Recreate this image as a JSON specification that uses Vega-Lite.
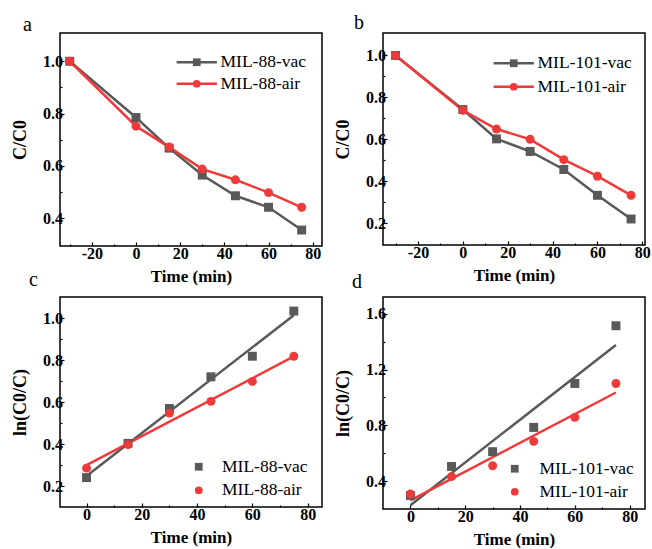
{
  "$schema": "https://vega.github.io/schema/vega-lite/v6.json",
  "background": "white",
  "padding": {"left": 10, "top": 12, "right": 0, "bottom": 0},
  "config": {
    "font": "Liberation Serif",
    "view": {"stroke": "black", "strokeWidth": 1.5},
    "axis": {
      "domain": false,
      "grid": false,
      "labelFont": "Liberation Serif",
      "labelFontWeight": "bold",
      "labelFontSize": 16,
      "labelColor": "black",
      "titleFont": "Liberation Serif",
      "titleFontWeight": "bold",
      "titleFontSize": 17,
      "titleColor": "black",
      "tickColor": "black",
      "tickWidth": 1.2
    },
    "axisX": {"labelPadding": 3, "titlePadding": 7},
    "axisY": {"labelPadding": 1.5, "titlePadding": 13, "titleFontSize": 18},
    "legend": {
      "labelFont": "Liberation Serif",
      "labelFontSize": 17.5,
      "labelColor": "black",
      "padding": 0,
      "rowPadding": 2.5
    },
    "title": {"font": "Liberation Serif", "fontSize": 20, "fontWeight": "normal", "color": "black", "anchor": "start", "frame": "group"}
  },
  "datasets": {
    "a": [
      {"t": -30, "v": 1.0, "s": "MIL-88-vac"},
      {"t": 0, "v": 0.785, "s": "MIL-88-vac"},
      {"t": 15, "v": 0.668, "s": "MIL-88-vac"},
      {"t": 30, "v": 0.565, "s": "MIL-88-vac"},
      {"t": 45, "v": 0.486, "s": "MIL-88-vac"},
      {"t": 60, "v": 0.442, "s": "MIL-88-vac"},
      {"t": 75, "v": 0.355, "s": "MIL-88-vac"},
      {"t": -30, "v": 1.0, "s": "MIL-88-air"},
      {"t": 0, "v": 0.752, "s": "MIL-88-air"},
      {"t": 15, "v": 0.672, "s": "MIL-88-air"},
      {"t": 30, "v": 0.588, "s": "MIL-88-air"},
      {"t": 45, "v": 0.547, "s": "MIL-88-air"},
      {"t": 60, "v": 0.498, "s": "MIL-88-air"},
      {"t": 75, "v": 0.442, "s": "MIL-88-air"}
    ],
    "b": [
      {"t": -30, "v": 1.0, "s": "MIL-101-vac"},
      {"t": 0, "v": 0.742, "s": "MIL-101-vac"},
      {"t": 15, "v": 0.602, "s": "MIL-101-vac"},
      {"t": 30, "v": 0.542, "s": "MIL-101-vac"},
      {"t": 45, "v": 0.456, "s": "MIL-101-vac"},
      {"t": 60, "v": 0.333, "s": "MIL-101-vac"},
      {"t": 75, "v": 0.22, "s": "MIL-101-vac"},
      {"t": -30, "v": 1.0, "s": "MIL-101-air"},
      {"t": 0, "v": 0.738, "s": "MIL-101-air"},
      {"t": 15, "v": 0.649, "s": "MIL-101-air"},
      {"t": 30, "v": 0.6, "s": "MIL-101-air"},
      {"t": 45, "v": 0.503, "s": "MIL-101-air"},
      {"t": 60, "v": 0.424, "s": "MIL-101-air"},
      {"t": 75, "v": 0.333, "s": "MIL-101-air"}
    ],
    "c": [
      {"t": 0, "v": 0.24, "s": "MIL-88-vac"},
      {"t": 15, "v": 0.403, "s": "MIL-88-vac"},
      {"t": 30, "v": 0.569, "s": "MIL-88-vac"},
      {"t": 45, "v": 0.72, "s": "MIL-88-vac"},
      {"t": 60, "v": 0.818, "s": "MIL-88-vac"},
      {"t": 75, "v": 1.033, "s": "MIL-88-vac"},
      {"t": 0, "v": 0.285, "s": "MIL-88-air"},
      {"t": 15, "v": 0.397, "s": "MIL-88-air"},
      {"t": 30, "v": 0.547, "s": "MIL-88-air"},
      {"t": 45, "v": 0.603, "s": "MIL-88-air"},
      {"t": 60, "v": 0.698, "s": "MIL-88-air"},
      {"t": 75, "v": 0.818, "s": "MIL-88-air"}
    ],
    "d": [
      {"t": 0, "v": 0.297, "s": "MIL-101-vac"},
      {"t": 15, "v": 0.505, "s": "MIL-101-vac"},
      {"t": 30, "v": 0.611, "s": "MIL-101-vac"},
      {"t": 45, "v": 0.785, "s": "MIL-101-vac"},
      {"t": 60, "v": 1.1, "s": "MIL-101-vac"},
      {"t": 75, "v": 1.514, "s": "MIL-101-vac"},
      {"t": 0, "v": 0.307, "s": "MIL-101-air"},
      {"t": 15, "v": 0.432, "s": "MIL-101-air"},
      {"t": 30, "v": 0.51, "s": "MIL-101-air"},
      {"t": 45, "v": 0.685, "s": "MIL-101-air"},
      {"t": 60, "v": 0.857, "s": "MIL-101-air"},
      {"t": 75, "v": 1.1, "s": "MIL-101-air"}
    ]
  },
  "columns": 2,
  "spacing": {"column": 61, "row": 51},
  "bounds": "flush",
  "resolve": {
    "scale": {"color": "independent", "shape": "independent", "x": "independent", "y": "independent"},
    "legend": {"color": "independent", "shape": "independent"}
  },
  "concat": [
    {
      "width": 262, "height": 213,
      "title": {"text": "a", "offset": -2, "dx": -37, "fontSize": 20, "frame": "group"},
      "data": {"name": "a"},
      "resolve": {"legend": {"color": "independent", "shape": "independent"}},
      "encoding": {
        "x": {"field": "t", "type": "quantitative", "title": "Time (min)",
              "scale": {"domain": [-34.4, 84.2], "nice": false, "zero": false},
              "axis": {"values": [-30, -20, -10, 0, 10, 20, 30, 40, 50, 60, 70, 80],
                       "labelExpr": "datum.value % 20 === 0 ? replace(datum.label, '−', '-') : ''",
                       "tickSize": {"condition": {"test": "datum.value % 20 === 0", "value": -4}, "value": -2}}},
        "y": {"field": "v", "type": "quantitative", "title": "C/C0",
              "scale": {"domain": [0.294, 1.108], "nice": false, "zero": false},
              "axis": {"values": [0.4, 0.5, 0.6, 0.7, 0.8, 0.9, 1.0], "format": ".1f",
                       "labelExpr": "round(datum.value * 10) % 2 === 0 ? datum.label : ''",
                       "tickSize": {"condition": {"test": "round(datum.value * 10) % 2 === 0", "value": -4}, "value": -2}}}
      },
      "layer": [
        {
          "mark": {"type": "line", "strokeWidth": 2.5},
          "encoding": {
            "color": {"field": "s", "type": "nominal",
                      "scale": {"domain": ["MIL-88-vac", "MIL-88-air"], "range": ["#595959", "#f03a3a"]},
                      "legend": {"title": null, "orient": "none", "legendX": 128, "legendY": 20.5,
                                 "symbolType": "M-5.2,0H5.2", "symbolSize": 60, "symbolStrokeWidth": 2.5,
                                 "labelOffset": 15, "labelOpacity": 0}}
          }
        },
        {
          "mark": {"type": "point", "filled": true, "opacity": 1, "size": 80},
          "encoding": {
            "color": {"field": "s", "type": "nominal",
                      "scale": {"domain": ["MIL-88-vac", "MIL-88-air"], "range": ["#595959", "#f03a3a"]},
                      "legend": {"title": null, "orient": "none", "legendX": 128, "legendY": 20.5,
                                 "symbolSize": 60, "labelOffset": 15}},
            "shape": {"field": "s", "type": "nominal",
                      "scale": {"domain": ["MIL-88-vac", "MIL-88-air"], "range": ["square", "circle"]},
                      "legend": {"title": null, "orient": "none", "legendX": 128, "legendY": 20.5,
                                 "symbolSize": 60, "labelOffset": 15}}
          }
        }
      ]
    },
    {
      "width": 262, "height": 212,
      "title": {"text": "b", "offset": 0, "dx": -29, "fontSize": 20, "frame": "group"},
      "data": {"name": "b"},
      "resolve": {"legend": {"color": "independent", "shape": "independent"}},
      "encoding": {
        "x": {"field": "t", "type": "quantitative", "title": "Time (min)",
              "scale": {"domain": [-35.6, 81.2], "nice": false, "zero": false},
              "axis": {"values": [-30, -20, -10, 0, 10, 20, 30, 40, 50, 60, 70, 80],
                       "labelExpr": "datum.value % 20 === 0 ? replace(datum.label, '−', '-') : ''",
                       "tickSize": {"condition": {"test": "datum.value % 20 === 0", "value": -4}, "value": -2}}},
        "y": {"field": "v", "type": "quantitative", "title": "C/C0",
              "scale": {"domain": [0.096, 1.107], "nice": false, "zero": false},
              "axis": {"values": [0.2, 0.3, 0.4, 0.5, 0.6, 0.7, 0.8, 0.9, 1.0], "format": ".1f",
                       "labelExpr": "round(datum.value * 10) % 2 === 0 ? datum.label : ''",
                       "tickSize": {"condition": {"test": "round(datum.value * 10) % 2 === 0", "value": -4}, "value": -2}}}
      },
      "layer": [
        {
          "mark": {"type": "line", "strokeWidth": 2.5},
          "encoding": {
            "color": {"field": "s", "type": "nominal",
                      "scale": {"domain": ["MIL-101-vac", "MIL-101-air"], "range": ["#595959", "#f03a3a"]},
                      "legend": {"title": null, "orient": "none", "legendX": 122, "legendY": 21.5, "rowPadding": 4.5,
                                 "symbolType": "M-5.2,0H5.2", "symbolSize": 60, "symbolStrokeWidth": 2.5,
                                 "labelOffset": 15, "labelOpacity": 0}}
          }
        },
        {
          "mark": {"type": "point", "filled": true, "opacity": 1, "size": 80},
          "encoding": {
            "color": {"field": "s", "type": "nominal",
                      "scale": {"domain": ["MIL-101-vac", "MIL-101-air"], "range": ["#595959", "#f03a3a"]},
                      "legend": {"title": null, "orient": "none", "legendX": 122, "legendY": 21.5, "rowPadding": 4.5,
                                 "symbolSize": 60, "labelOffset": 15}},
            "shape": {"field": "s", "type": "nominal",
                      "scale": {"domain": ["MIL-101-vac", "MIL-101-air"], "range": ["square", "circle"]},
                      "legend": {"title": null, "orient": "none", "legendX": 122, "legendY": 21.5, "rowPadding": 4.5,
                                 "symbolSize": 60, "labelOffset": 15}}
          }
        }
      ]
    },
    {
      "width": 262, "height": 210,
      "title": {"text": "c", "offset": 7, "dx": -31, "fontSize": 20, "frame": "group"},
      "data": {"name": "c"},
      "resolve": {"legend": {"color": "independent", "shape": "independent"}},
      "encoding": {
        "x": {"field": "t", "type": "quantitative", "title": "Time (min)",
              "scale": {"domain": [-9.6, 85.2], "nice": false, "zero": false},
              "axis": {"values": [0, 10, 20, 30, 40, 50, 60, 70, 80],
                       "labelExpr": "datum.value % 20 === 0 ? datum.label : ''",
                       "tickSize": {"condition": {"test": "datum.value % 20 === 0", "value": -4}, "value": -2}}},
        "y": {"field": "v", "type": "quantitative", "title": "ln(C0/C)",
              "scale": {"domain": [0.1, 1.1], "nice": false, "zero": false},
              "axis": {"values": [0.2, 0.3, 0.4, 0.5, 0.6, 0.7, 0.8, 0.9, 1.0], "format": ".1f",
                       "labelExpr": "round(datum.value * 10) % 2 === 0 ? datum.label : ''",
                       "tickSize": {"condition": {"test": "round(datum.value * 10) % 2 === 0", "value": -4}, "value": -2}}}
      },
      "layer": [
        {
          "transform": [{"regression": "v", "on": "t", "groupby": ["s"], "extent": [0, 75]}],
          "mark": {"type": "line", "strokeWidth": 2.5},
          "encoding": {
            "color": {"field": "s", "type": "nominal",
                      "scale": {"domain": ["MIL-88-vac", "MIL-88-air"], "range": ["#595959", "#f03a3a"]},
                      "legend": null}
          }
        },
        {
          "mark": {"type": "point", "filled": true, "opacity": 1, "size": 80},
          "encoding": {
            "color": {"field": "s", "type": "nominal",
                      "scale": {"domain": ["MIL-88-vac", "MIL-88-air"], "range": ["#595959", "#f03a3a"]},
                      "legend": {"title": null, "orient": "none", "legendX": 130, "legendY": 161, "rowPadding": 4.5,
                                 "symbolSize": 60, "labelOffset": 14.5}},
            "shape": {"field": "s", "type": "nominal",
                      "scale": {"domain": ["MIL-88-vac", "MIL-88-air"], "range": ["square", "circle"]},
                      "legend": {"title": null, "orient": "none", "legendX": 130, "legendY": 161, "rowPadding": 4.5,
                                 "symbolSize": 60, "labelOffset": 14.5}}
          }
        }
      ]
    },
    {
      "width": 262, "height": 212,
      "title": {"text": "d", "offset": 5, "dx": -31, "fontSize": 20, "frame": "group"},
      "data": {"name": "d"},
      "resolve": {"legend": {"color": "independent", "shape": "independent"}},
      "encoding": {
        "x": {"field": "t", "type": "quantitative", "title": "Time (min)",
              "scale": {"domain": [-10, 85.6], "nice": false, "zero": false},
              "axis": {"values": [0, 10, 20, 30, 40, 50, 60, 70, 80],
                       "labelExpr": "datum.value % 20 === 0 ? datum.label : ''",
                       "tickSize": {"condition": {"test": "datum.value % 20 === 0", "value": -4}, "value": -2}}},
        "y": {"field": "v", "type": "quantitative", "title": "ln(C0/C)",
              "scale": {"domain": [0.2, 1.72], "nice": false, "zero": false},
              "axis": {"values": [0.4, 0.6, 0.8, 1.0, 1.2, 1.4, 1.6], "format": ".1f",
                       "labelExpr": "round(datum.value * 10) % 4 === 0 ? datum.label : ''",
                       "tickSize": {"condition": {"test": "round(datum.value * 10) % 4 === 0", "value": -4}, "value": -2}}}
      },
      "layer": [
        {
          "transform": [{"regression": "v", "on": "t", "groupby": ["s"], "extent": [0, 75]}],
          "mark": {"type": "line", "strokeWidth": 2.5},
          "encoding": {
            "color": {"field": "s", "type": "nominal",
                      "scale": {"domain": ["MIL-101-vac", "MIL-101-air"], "range": ["#595959", "#f03a3a"]},
                      "legend": null}
          }
        },
        {
          "mark": {"type": "point", "filled": true, "opacity": 1, "size": 80},
          "encoding": {
            "color": {"field": "s", "type": "nominal",
                      "scale": {"domain": ["MIL-101-vac", "MIL-101-air"], "range": ["#595959", "#f03a3a"]},
                      "legend": {"title": null, "orient": "none", "legendX": 123, "legendY": 163, "rowPadding": 4,
                                 "symbolSize": 60, "labelOffset": 16}},
            "shape": {"field": "s", "type": "nominal",
                      "scale": {"domain": ["MIL-101-vac", "MIL-101-air"], "range": ["square", "circle"]},
                      "legend": {"title": null, "orient": "none", "legendX": 123, "legendY": 163, "rowPadding": 4,
                                 "symbolSize": 60, "labelOffset": 16}}
          }
        }
      ]
    }
  ]
}
